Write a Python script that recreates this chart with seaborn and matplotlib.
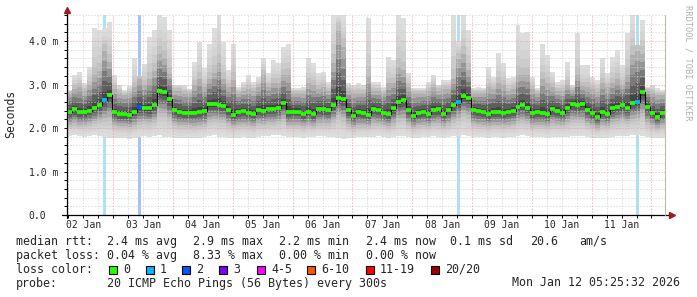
import matplotlib
matplotlib.use('Agg')
import numpy as np
import pandas as pd
import matplotlib.pyplot as plt
import matplotlib.dates as mdates
from matplotlib.patches import Rectangle
from matplotlib.ticker import FixedLocator, MultipleLocator, NullFormatter
import seaborn as sns

# ---------------- data (milliseconds, one value per 2-hour step) ----------------
START_TIME = '2026-01-02 05:25:32'
STEP_HOURS = 2

median_ms = [
    2.36, 2.43, 2.36, 2.36, 2.40, 2.47, 2.53, 2.65, 2.76, 2.36,
    2.32, 2.32, 2.30, 2.38, 2.48, 2.45, 2.45, 2.53, 2.85, 2.82,
    2.66, 2.41, 2.36, 2.34, 2.34, 2.35, 2.36, 2.39, 2.55, 2.55,
    2.53, 2.51, 2.41, 2.31, 2.36, 2.39, 2.35, 2.32, 2.42, 2.39,
    2.44, 2.43, 2.47, 2.57, 2.36, 2.38, 2.38, 2.32, 2.38, 2.32,
    2.44, 2.43, 2.42, 2.54, 2.70, 2.66, 2.41, 2.28, 2.37, 2.35,
    2.30, 2.44, 2.41, 2.35, 2.32, 2.45, 2.60, 2.64, 2.41, 2.28,
    2.34, 2.37, 2.33, 2.41, 2.43, 2.33, 2.41, 2.53, 2.60, 2.74,
    2.70, 2.41, 2.39, 2.37, 2.32, 2.37, 2.37, 2.34, 2.37, 2.40,
    2.49, 2.54, 2.47, 2.34, 2.36, 2.35, 2.33, 2.43, 2.40, 2.35,
    2.47, 2.56, 2.53, 2.55, 2.41, 2.34, 2.26, 2.37, 2.32, 2.45,
    2.49, 2.53, 2.47, 2.58, 2.60, 2.82, 2.49, 2.34, 2.26, 2.34,
]

max_ms = [
    2.87, 3.22, 3.29, 3.03, 3.41, 4.30, 4.25, 4.30, 4.45, 3.22,
    2.99, 2.87, 2.96, 3.60, 3.20, 3.48, 4.10, 4.25, 4.60, 4.56,
    4.25, 3.00, 3.00, 3.00, 2.90, 3.52, 3.98, 3.37, 3.94, 4.29,
    4.60, 3.98, 3.33, 3.94, 2.95, 3.06, 3.22, 3.06, 3.18, 3.60,
    3.26, 3.56, 3.50, 3.87, 3.94, 2.91, 2.91, 2.95, 3.60, 3.49,
    3.26, 3.30, 3.06, 4.60, 4.60, 4.60, 3.03, 3.00, 3.03, 3.00,
    4.52, 3.06, 3.06, 2.95, 3.64, 3.56, 4.60, 4.52, 3.26, 2.91,
    2.91, 2.91, 3.06, 3.22, 3.00, 3.10, 3.10, 4.60, 4.00, 4.60,
    4.25, 2.91, 2.95, 2.91, 3.41, 3.18, 3.72, 3.49, 3.14, 3.18,
    4.37, 4.18, 4.21, 3.18, 2.91, 3.94, 3.68, 3.30, 3.06, 3.10,
    3.52, 3.00, 4.18, 3.45, 3.45, 3.18, 3.10, 3.60, 3.26, 3.64,
    3.79, 3.45, 4.18, 4.60, 3.90, 4.48, 2.95, 3.00, 2.91, 2.87,
]

upper_ms = [
    2.85, 2.95, 3.00, 2.90, 3.05, 3.30, 3.40, 3.90, 3.60, 2.95,
    2.85, 2.80, 2.85, 3.00, 3.20, 3.05, 3.20, 3.40, 3.80, 3.70,
    3.30, 2.90, 2.90, 2.85, 2.85, 3.05, 3.20, 3.00, 3.20, 3.35,
    3.60, 3.20, 3.00, 3.20, 2.85, 2.90, 2.95, 2.90, 3.00, 3.30,
    3.00, 3.10, 3.10, 3.30, 3.30, 2.85, 2.85, 2.85, 3.10, 3.05,
    2.95, 3.00, 2.90, 3.60, 4.40, 4.00, 2.90, 2.85, 2.85, 2.85,
    3.30, 2.90, 2.90, 2.85, 3.10, 3.10, 3.50, 3.40, 3.00, 2.85,
    2.85, 2.85, 2.90, 3.00, 2.90, 2.95, 2.95, 3.20, 3.70, 3.80,
    3.40, 2.85, 2.85, 2.85, 3.00, 2.95, 3.10, 3.05, 2.90, 2.95,
    3.30, 3.30, 3.30, 2.95, 2.85, 3.20, 3.10, 3.00, 2.90, 2.90,
    3.05, 2.90, 3.30, 3.00, 3.00, 2.95, 2.90, 3.10, 3.00, 3.10,
    3.20, 3.05, 3.30, 3.80, 3.90, 3.80, 2.90, 2.85, 2.80, 2.80,
]

lower_ms = [
    2.05, 2.08, 2.05, 2.05, 2.08, 2.12, 2.15, 2.18, 2.20, 2.05,
    2.02, 2.02, 2.00, 2.05, 2.10, 2.12, 2.10, 2.15, 2.30, 2.30,
    2.20, 2.08, 2.05, 2.05, 2.03, 2.02, 2.05, 2.05, 2.15, 2.18,
    2.15, 2.15, 2.08, 2.02, 2.05, 2.05, 2.05, 2.03, 2.08, 2.07,
    2.10, 2.10, 2.12, 2.18, 2.05, 2.05, 2.05, 2.02, 2.05, 2.02,
    2.08, 2.08, 2.08, 2.15, 2.25, 2.20, 2.05, 2.00, 2.03, 2.03,
    2.02, 2.08, 2.08, 2.05, 2.02, 2.08, 2.18, 2.20, 2.08, 2.00,
    2.03, 2.05, 2.03, 2.08, 2.08, 2.03, 2.08, 2.15, 2.20, 2.30,
    2.25, 2.08, 2.05, 2.05, 2.02, 2.05, 2.05, 2.03, 2.05, 2.07,
    2.12, 2.15, 2.12, 2.03, 2.05, 2.05, 2.03, 2.08, 2.07, 2.05,
    2.10, 2.15, 2.15, 2.15, 2.08, 2.03, 1.98, 2.05, 2.03, 2.10,
    2.12, 2.15, 2.12, 2.18, 2.20, 2.30, 2.10, 2.03, 1.98, 2.03,
]

min_ms = [
    1.82, 1.84, 1.82, 1.80, 1.82, 1.84, 1.82, 1.80, 1.76, 1.78,
    1.76, 1.77, 1.75, 1.78, 1.80, 1.82, 1.80, 1.82, 1.84, 1.80,
    1.80, 1.78, 1.76, 1.76, 1.78, 1.76, 1.78, 1.80, 1.82, 1.84,
    1.80, 1.80, 1.78, 1.76, 1.78, 1.80, 1.78, 1.76, 1.80, 1.82,
    1.82, 1.84, 1.84, 1.82, 1.80, 1.80, 1.80, 1.78, 1.80, 1.80,
    1.82, 1.82, 1.80, 1.80, 1.76, 1.74, 1.78, 1.76, 1.80, 1.80,
    1.80, 1.80, 1.82, 1.80, 1.78, 1.80, 1.82, 1.82, 1.80, 1.76,
    1.78, 1.80, 1.80, 1.82, 1.80, 1.78, 1.80, 1.82, 1.80, 1.84,
    1.82, 1.80, 1.80, 1.80, 1.78, 1.80, 1.80, 1.78, 1.80, 1.80,
    1.82, 1.84, 1.82, 1.80, 1.80, 1.80, 1.78, 1.80, 1.80, 1.80,
    1.80, 1.82, 1.82, 1.82, 1.80, 1.78, 1.76, 1.78, 1.78, 1.80,
    1.82, 1.82, 1.82, 1.84, 1.84, 1.82, 1.80, 1.76, 1.76, 1.78,
]

loss_steps = [7, 14, 78, 114]      # step index with packet loss
loss_counts = [1, 2, 1, 1]         # lost pings out of 20

ytick_values = [0, 1, 2, 3, 4]
ytick_labels = ['0.0', '1.0 m', '2.0 m', '3.0 m', '4.0 m']

legend_labels = ['0', '1', '2', '3', '4-5', '6-10', '11-19', '20/20']
legend_colors = ['#26ff00', '#00b8ff', '#0059ff', '#7e00ff', '#ff00ff', '#ff5500', '#ff0000', '#a10000']
bar_colors = {1: '#abe3fb', 2: '#a6c3f8'}

# ---------------- figure ----------------
sns.set_theme(style='white')
plt.rcParams['font.family'] = ['DejaVu Sans Mono', 'DejaVu Sans']

W, H = 697, 297
fig = plt.figure(figsize=(W / 100, H / 100), dpi=100)
fig.patch.set_facecolor('white')
ax = fig.add_axes([67 / W, 1 - 215 / H, 598 / W, 200 / H])
ax.set_facecolor('white')

n = len(median_ms)
start = pd.Timestamp(START_TIME)
end = start + pd.Timedelta(hours=STEP_HOURS * n)
times = start + pd.to_timedelta(STEP_HOURS * (np.arange(n) + 0.5), unit='h')
tnum = mdates.date2num(times)
half = STEP_HOURS / 24 / 2
xe = np.append(tnum - half, tnum[-1] + half)

med = np.array(median_ms)
top = np.array(max_ms)
up = np.array(upper_ms)
lo = np.array(lower_ms)
bot = np.array(min_ms)


def ext(a):
    return np.append(a, a[-1])


# loss bars (drawn behind smoke)
px_day = 598 / (STEP_HOURS * n / 24)
bw = 1.6 / px_day
for s, c in zip(loss_steps, loss_counts):
    ax.axvspan(tnum[s] - bw, tnum[s] + bw, color=bar_colors[c], lw=0, zorder=0.6)

# smoke: graded gray bands from the outer envelope toward the median
grays = [221, 217, 211, 203, 192, 174, 150, 122, 94, 68]
nl = len(grays)
for k, g in enumerate(grays):
    t = k / (nl - 1)
    if t <= 0.5:
        s = 2 * t
        l_k = bot + (lo - bot) * s
        u_k = top + (up - top) * s
    else:
        s = (2 * t - 1) * 0.85
        l_k = lo + (med - lo) * s
        u_k = up + (med - up) * s
    c = '#%02x%02x%02x' % (g, g, g)
    ax.fill_between(xe, ext(l_k), ext(u_k), step='post', color=c, lw=0, zorder=1)

# median: thin black step line + coloured loss segments
sns.lineplot(x=xe, y=ext(med), drawstyle='steps-post', color='black', lw=0.8,
             estimator=None, ax=ax, zorder=4)
loss_of = np.zeros(n, dtype=int)
for s, c in zip(loss_steps, loss_counts):
    loss_of[s] = c
seg_cols = [legend_colors[min(c, 2)] for c in loss_of]
ax.hlines(med, tnum - half, tnum + half, colors=seg_cols, linewidth=2.7, zorder=5)

# axes limits / ticks
ax.set_xlim(mdates.date2num(start), mdates.date2num(end))
ax.set_ylim(0, 4.6)
ax.yaxis.set_major_locator(FixedLocator(ytick_values))
ax.set_yticklabels(ytick_labels, ha='left')
ax.yaxis.set_minor_locator(MultipleLocator(0.2))
ax.xaxis.set_major_locator(mdates.HourLocator(byhour=[12]))
ax.xaxis.set_major_formatter(mdates.DateFormatter('%d %b'))
ax.xaxis.set_minor_locator(mdates.HourLocator(byhour=[0, 6, 18]))
ax.xaxis.set_minor_formatter(NullFormatter())
ax.tick_params(axis='y', which='both', length=2, width=0.7, color='black',
               direction='out', labelsize=7, pad=25.5, left=True)
ax.tick_params(axis='x', which='both', length=2, width=0.7, color='black',
               direction='out', labelsize=7, pad=1.5, bottom=True)
ax.set_ylabel('')
ax.set_xlabel('')

# grid
dot = (0, (1, 2))
ax.set_axisbelow(False)
ax.xaxis.grid(True, which='major', color='#cfcfcf', lw=0.72, ls=dot, zorder=2.5)
ax.yaxis.grid(True, which='minor', color='#cfcfcf', lw=0.72, ls=dot, zorder=2.5)
ax.yaxis.grid(True, which='major', color='#e8a0a0', lw=0.72, ls=dot, zorder=2.6)
ax.xaxis.grid(False, which='minor')
for d in pd.date_range(start.normalize() + pd.Timedelta(days=1), end, freq='D'):
    ax.axvline(mdates.date2num(d), color='#e8a0a0', lw=0.72, ls=dot, zorder=2.6)
for h in pd.date_range(start.normalize(), end, freq='6h'):
    if h.hour in (6, 18) and start < h < end:
        ax.axvline(mdates.date2num(h), color='#cfcfcf', lw=0.72, ls=dot, zorder=2.5)

# frame: axis lines with arrows, right boundary line
for sp in ax.spines.values():
    sp.set_visible(False)
ax.plot([0, 0], [-3 / 200, 1 + 4 / 200], transform=ax.transAxes, color='black',
        lw=0.9, clip_on=False, zorder=6)
ax.plot([-5 / 598, 1 + 5 / 598], [0, 0], transform=ax.transAxes, color='black',
        lw=0.9, clip_on=False, zorder=6)
ax.plot([0], [1 + 5 / 200], marker='^', ms=4.2, color='#9b1c1c', mec='#9b1c1c',
        transform=ax.transAxes, clip_on=False, zorder=7)
ax.plot([1 + 7 / 598], [0], marker='>', ms=4.2, color='#9b1c1c', mec='#9b1c1c',
        transform=ax.transAxes, clip_on=False, zorder=7)
ax.plot([1, 1], [0, 1], transform=ax.transAxes, color='#bdbda5', lw=0.8,
        clip_on=False, zorder=6)

# side texts
fig.text(11 / W, 1 - 114 / H, 'Seconds', rotation=90, ha='center', va='center', fontsize=8.3)
fig.text(688 / W, 1 - 5 / H, 'RRDTOOL / TOBI OETIKER', rotation=270, ha='center',
         va='top', fontsize=6.2, color='#b0b0b0')

# legend / statistics block
FS = 8.4


def t(x, y, s, **kw):
    fig.text(x / W, 1 - y / H, s, ha=kw.pop('ha', 'left'), va='center', fontsize=FS, **kw)


y1, y2, y3, y4 = 241.5, 255.5, 269.5, 283
t(16, y1, 'median rtt:')
t(107, y1, '2.4 ms avg')
t(193, y1, '2.9 ms max')
t(279, y1, '2.2 ms min')
t(366, y1, '2.4 ms now')
t(450, y1, '0.1 ms sd')
t(530, y1, '20.6')
t(579, y1, 'am/s')
t(16, y2, 'packet loss:')
t(107, y2, '0.04 % avg')
t(193, y2, '8.33 % max')
t(279, y2, '0.00 % min')
t(366, y2, '0.00 % now')
t(16, y3, 'loss color:')
sq_x = [109, 146, 182, 219, 257, 307, 366, 431]
for sx, lab, col in zip(sq_x, legend_labels, legend_colors):
    fig.patches.append(Rectangle((sx / W, 1 - (y3 + 4) / H), 8 / W, 8 / H,
                                 transform=fig.transFigure, facecolor=col,
                                 edgecolor='black', lw=0.8))
    t(sx + 14, y3, lab)
t(16, y4, 'probe:')
t(107, y4, '20 ICMP Echo Pings (56 Bytes) every 300s')
t(680, y4, 'Mon Jan 12 05:25:32 2026', ha='right')

fig.savefig('out.png', dpi=100, facecolor='white')
